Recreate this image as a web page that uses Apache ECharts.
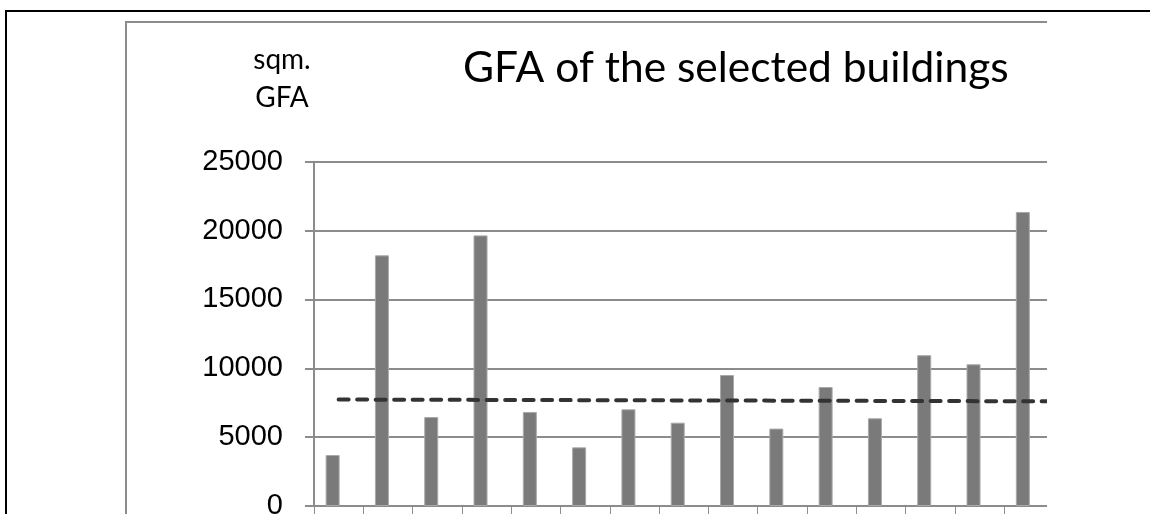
<!DOCTYPE html>
<html>
<head>
<meta charset="utf-8">
<script src="https://cdn.jsdelivr.net/npm/echarts@6/dist/echarts.min.js"></script>
<style>
  html, body { margin: 0; padding: 0; background: #fff; overflow: hidden; }
  #chart { width: 1150px; height: 514px; }
</style>
</head>
<body>
<div id="chart"></div>
<script>
// Gross floor area per selected building (sqm)
const buildings = ['B1', 'B2', 'B3', 'B4', 'B5', 'B6', 'B7', 'B8', 'B9', 'B10', 'B11', 'B12', 'B13', 'B14', 'B15'];
const gfa = [3700, 18200, 6460, 19650, 6830, 4260, 7020, 6050, 9510, 5620, 8640, 6370, 10950, 10290, 21350];

// Dashed reference line: start/end positions along the category axis and their GFA values
const trendPos = [0.5, 15];
const trendGfa = [7730, 7600];

// Value axis ticks
const yMin = 0;
const yMax = 25000;
const yStep = 5000;

const gridGrey = '#8c8c8c';

const chart = echarts.init(document.getElementById('chart'), null, { renderer: 'canvas' });

chart.setOption({
  animation: false,
  backgroundColor: '#fff',
  graphic: [
    // outer page frame
    { type: 'rect', z: 1, shape: { x: 6, y: 11, width: 1300, height: 700 },
      style: { fill: 'none', stroke: '#000', lineWidth: 2 } },
    // chart area frame
    { type: 'rect', z: 1, shape: { x: 126, y: 22, width: 1100, height: 700 },
      style: { fill: 'none', stroke: gridGrey, lineWidth: 2 } },
    // right-hand cut of the chart area
    { type: 'rect', z: 100, shape: { x: 1047, y: 13, width: 120, height: 520 },
      style: { fill: '#fff' } },
    { type: 'text', z: 10,
      style: { text: 'GFA of the selected buildings', x: 463, y: 68,
               font: 'normal 42.5px Lato', fill: '#000',
               textAlign: 'left', textVerticalAlign: 'middle' } },
    { type: 'text', z: 10,
      style: { text: 'sqm.\nGFA', x: 282, y: 41,
               font: 'normal 28px Lato', lineHeight: 38, fill: '#000',
               textAlign: 'center', textVerticalAlign: 'top' } }
  ],
  grid: { left: 314, right: 96.5, top: 161.7, bottom: 8, containLabel: false, outerBoundsMode: 'none' },
  xAxis: [
    {
      type: 'category',
      data: buildings,
      boundaryGap: true,
      axisLine: { show: true, lineStyle: { color: gridGrey, width: 2 } },
      axisTick: { show: true, length: 9, alignWithLabel: false, lineStyle: { color: gridGrey, width: 1 } },
      axisLabel: { show: false },
      splitLine: { show: false }
    },
    {
      type: 'value',
      min: 0,
      max: buildings.length,
      show: false
    }
  ],
  yAxis: {
    type: 'value',
    min: yMin,
    max: yMax,
    interval: yStep,
    axisLine: { show: true, lineStyle: { color: gridGrey, width: 2 } },
    axisTick: { show: true, length: 9, lineStyle: { color: gridGrey, width: 2 } },
    axisLabel: {
      margin: 31,
      color: '#000',
      fontFamily: 'Liberation Sans',
      fontSize: 29,
      formatter: (v) => String(v)
    },
    splitLine: { show: true, lineStyle: { color: gridGrey, width: 2 } }
  },
  series: [
    {
      name: 'GFA',
      type: 'bar',
      data: gfa,
      barWidth: 14,
      barGap: '-14%',
      itemStyle: { color: '#7a7a7a', borderColor: '#a9a9a9', borderWidth: 1 }
    },
    {
      name: 'Reserved',
      type: 'bar',
      data: [],
      barWidth: 14
    },
    {
      name: 'Reference',
      type: 'line',
      xAxisIndex: 1,
      data: trendPos.map((p, i) => [p, trendGfa[i]]),
      symbol: 'none',
      z: 5,
      lineStyle: { color: '#333', width: 4, type: [10, 8.5], cap: 'round' }
    }
  ]
});
</script>
</body>
</html>
